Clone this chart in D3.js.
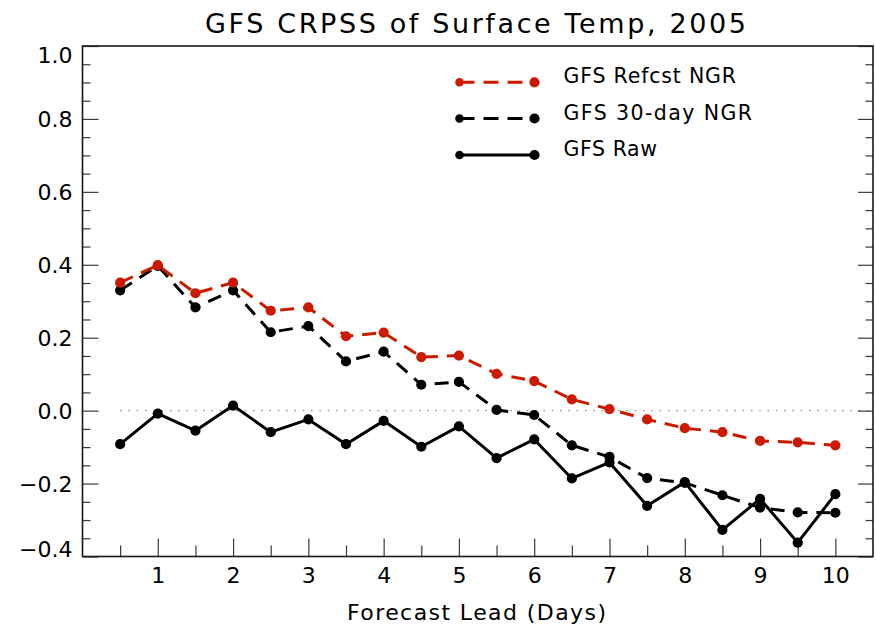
<!DOCTYPE html>
<html>
<head>
<meta charset="utf-8">
<script src="https://cdn.jsdelivr.net/npm/d3@7"></script>
<style>
  html, body { margin: 0; padding: 0; background: #fff; }
  svg { display: block; }
  text { font-family: "DejaVu Sans", sans-serif; fill: #000; }
</style>
</head>
<body>
<svg id="chart" width="876" height="626"></svg>
<script>
// Forecast lead in days
const days = [0.5, 1, 1.5, 2, 2.5, 3, 3.5, 4, 4.5, 5, 5.5, 6, 6.5, 7, 7.5, 8, 8.5, 9, 9.5, 10];

// CRPSS per lead time
const refcstNGR = [0.351, 0.399, 0.322, 0.351, 0.274, 0.283, 0.204, 0.214, 0.147, 0.151,
                   0.101, 0.081, 0.031, 0.004, -0.024, -0.048, -0.059, -0.083, -0.087, -0.095];
const thirtyDayNGR = [0.330, 0.397, 0.283, 0.330, 0.215, 0.232, 0.135, 0.162, 0.071, 0.079,
                      0.002, -0.012, -0.095, -0.127, -0.185, -0.198, -0.232, -0.266, -0.279, -0.280];
const rawGFS = [-0.092, -0.008, -0.055, 0.014, -0.059, -0.024, -0.092, -0.028, -0.099, -0.043,
                -0.130, -0.079, -0.186, -0.142, -0.261, -0.196, -0.327, -0.242, -0.362, -0.229];

// Axis ticks
const xMajorTicks = [1, 2, 3, 4, 5, 6, 7, 8, 9, 10];
const xMinorTicks = [0.5, 1.5, 2.5, 3.5, 4.5, 5.5, 6.5, 7.5, 8.5, 9.5];
const yMajorTicks = [-0.4, -0.2, 0.0, 0.2, 0.4, 0.6, 0.8, 1.0];
const yMinorTicks = [-0.35, -0.3, -0.25, -0.15, -0.1, -0.05, 0.05, 0.1, 0.15, 0.25, 0.3, 0.35,
                     0.45, 0.5, 0.55, 0.65, 0.7, 0.75, 0.85, 0.9, 0.95];

const titleText = "GFS CRPSS of Surface Temp, 2005";
const xLabel = "Forecast Lead (Days)";

const seriesList = [
  { name: "GFS Raw", values: rawGFS, color: "#000000", dash: null },
  { name: "GFS 30-day NGR", values: thirtyDayNGR, color: "#000000", dash: "14,9" },
  { name: "GFS Refcst NGR", values: refcstNGR, color: "#cc1a00", dash: "14,9" }
];
const legendOrder = ["GFS Refcst NGR", "GFS 30-day NGR", "GFS Raw"];

const L = 82.5, R = 873, T = 46, B = 556.5;
const svg = d3.select("#chart");

const x = d3.scaleLinear().domain([0, 10.5]).range([L, R]);
const y = d3.scaleLinear().domain([-0.4, 1.0]).range([B, T]);

// Title
svg.append("text")
  .attr("x", 205).attr("y", 32.5)
  .attr("font-size", 27)
  .attr("textLength", 541).attr("lengthAdjust", "spacing")
  .text(titleText);

// Zero reference line
svg.append("line")
  .attr("x1", x(0.5)).attr("x2", x(10.5))
  .attr("y1", y(0)).attr("y2", y(0))
  .attr("stroke", "#8a8a8a").attr("stroke-width", 1.3)
  .attr("stroke-dasharray", "1.5,6.8");

// Left axis
const fmt = d3.format(".1f");
const yLeft = svg.append("g").attr("transform", `translate(${L},0)`)
  .call(d3.axisLeft(y).tickValues(yMajorTicks).tickSize(-16).tickPadding(10)
        .tickFormat(d => fmt(d).replace("-", "\u2212")));
yLeft.selectAll(".tick text").attr("font-size", 22).attr("font-family", "DejaVu Sans")
  .attr("dy", "0.36em")
  .attr("transform", d => d === 1.0 ? "translate(0,9)" : d === -0.4 ? "translate(0,-8)" : null);
svg.append("g").attr("transform", `translate(${L},0)`)
  .call(d3.axisLeft(y).tickValues(yMinorTicks).tickSize(-8).tickFormat(""));

// Right axis (ticks only)
svg.append("g").attr("transform", `translate(${R},0)`)
  .call(d3.axisRight(y).tickValues(yMajorTicks).tickSize(-15).tickFormat(""));
svg.append("g").attr("transform", `translate(${R},0)`)
  .call(d3.axisRight(y).tickValues(yMinorTicks).tickSize(-7.5).tickFormat(""));

// Bottom axis
const xAxis = svg.append("g").attr("transform", `translate(0,${B})`)
  .call(d3.axisBottom(x).tickValues(xMajorTicks).tickSize(-18).tickPadding(0)
        .tickFormat(d3.format("d")));
xAxis.selectAll(".tick text").attr("font-size", 22).attr("font-family", "DejaVu Sans")
  .attr("dy", null).attr("y", 26.5);
svg.append("g").attr("transform", `translate(0,${B})`)
  .call(d3.axisBottom(x).tickValues(xMinorTicks).tickSize(-11).tickFormat(""));

// Hide the axis domain paths; a frame is drawn instead
svg.selectAll(".domain").remove();
svg.selectAll(".tick line").attr("stroke", "#3a3a3a").attr("stroke-width", 1.2);

// Plot frame
svg.append("rect")
  .attr("x", L).attr("y", T).attr("width", R - L).attr("height", B - T)
  .attr("fill", "none").attr("stroke", "#1a1a1a").attr("stroke-width", 1.6);

// X axis title
svg.append("text")
  .attr("x", 347).attr("y", 620)
  .attr("font-size", 22)
  .attr("textLength", 259).attr("lengthAdjust", "spacing")
  .text(xLabel);

// Series lines and markers
const line = d3.line().x((d, i) => x(days[i])).y(d => y(d));
seriesList.forEach(s => {
  const g = svg.append("g");
  g.append("path")
    .attr("d", line(s.values))
    .attr("fill", "none")
    .attr("stroke", s.color).attr("stroke-width", 3)
    .attr("stroke-linejoin", "round")
    .attr("stroke-dasharray", s.dash);
  g.selectAll("circle").data(s.values).join("circle")
    .attr("cx", (d, i) => x(days[i])).attr("cy", d => y(d))
    .attr("r", 5.1).attr("fill", s.color);
});

// Legend
const legendRows = [82.3, 118.5, 155];
const legendTextLen = { "GFS Refcst NGR": 172.5, "GFS 30-day NGR": 188.5, "GFS Raw": 93.5 };
legendOrder.forEach((name, k) => {
  const s = seriesList.find(d => d.name === name);
  const ly = legendRows[k];
  const g = svg.append("g");
  g.append("line")
    .attr("x1", 459.5).attr("x2", 534.5).attr("y1", ly).attr("y2", ly)
    .attr("stroke", s.color).attr("stroke-width", 3)
    .attr("stroke-dasharray", s.dash ? "15,9" : null);
  g.append("circle").attr("cx", 459.5).attr("cy", ly).attr("r", 4.3).attr("fill", s.color);
  g.append("circle").attr("cx", 534.5).attr("cy", ly).attr("r", 5.1).attr("fill", s.color);
  g.append("text")
    .attr("x", 563.5).attr("y", ly + 1)
    .attr("font-size", 20.5)
    .attr("textLength", legendTextLen[name]).attr("lengthAdjust", "spacing")
    .text(name);
});
</script>
</body>
</html>
